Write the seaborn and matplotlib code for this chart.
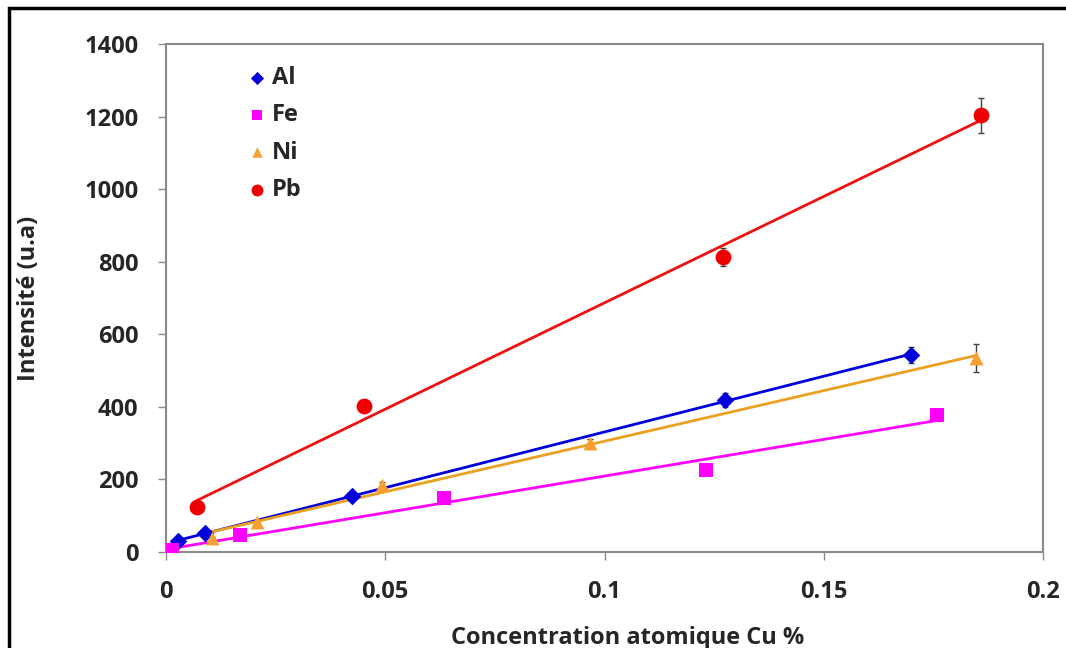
import matplotlib
import matplotlib.pyplot as plt
import numpy as np
import seaborn as sns
from matplotlib.patches import Rectangle

matplotlib.use("Agg")

sns.set_theme(style="white")
plt.rcParams["font.family"] = ["Open Sans", "DejaVu Sans"]

# valeurs
al_x = [0.0027, 0.0089, 0.0424, 0.1275, 0.170]
al_y = [30, 52, 154, 419, 543]
al_err = [4, 6, 8, 20, 22]

fe_x = [0.0014, 0.0169, 0.0634, 0.1231, 0.1758]
fe_y = [5, 47, 149, 226, 378]
fe_err = [0, 0, 0, 0, 0]

ni_x = [0.0105, 0.0208, 0.0493, 0.0967, 0.1847]
ni_y = [39, 83, 185, 300, 535]
ni_err = [3, 5, 8, 12, 39]

pb_x = [0.0071, 0.0452, 0.127, 0.1859]
pb_y = [124, 402, 813, 1204]
pb_err = [0, 6, 25, 48]

series = [
    ("Al", al_x, al_y, al_err, "D", "#0000dd", "#0000dd", 80),
    ("Fe", fe_x, fe_y, fe_err, "s", "#ff00ff", "#ff00ff", 110),
    ("Ni", ni_x, ni_y, ni_err, "^", "#f5a030", "#eaa020", 100),
    ("Pb", pb_x, pb_y, pb_err, "o", "#ee0000", "#ee1111", 130),
]

fig = plt.figure(figsize=(10.66, 6.48), dpi=100)
ax = fig.add_axes([166 / 1066, 1 - 552 / 648, (1043 - 166) / 1066, (552 - 44) / 648])

for name, x, y, err, mk, col, lcol, size in series:
    if any(e > 0 for e in err):
        ax.errorbar(x, y, yerr=err, fmt="none", ecolor="#404040", elinewidth=1,
                    capsize=2.5, capthick=1, zorder=2)
    sns.regplot(x=np.array(x), y=np.array(y), ax=ax, ci=None, truncate=True,
                marker=mk, color=col, label=name,
                scatter_kws={"s": size, "alpha": 1, "zorder": 3, "linewidths": 0},
                line_kws={"color": lcol, "lw": 2, "zorder": 2.5})

ax.set_xlim(0, 0.2)
ax.set_ylim(0, 1400)
ax.set_xticks([0, 0.05, 0.1, 0.15, 0.2])
ax.set_xticklabels(["0", "0.05", "0.1", "0.15", "0.2"])
ax.set_yticks(range(0, 1401, 200))

for s in ax.spines.values():
    s.set_visible(True)
    s.set_color("#8a8a8a")
    s.set_linewidth(1.5)

ax.tick_params(axis="both", which="major", direction="out", length=6, width=1,
               color="#8a8a8a", labelsize=17, pad=14)
ax.tick_params(axis="x", bottom=True)
ax.tick_params(axis="y", left=True)
for lab in ax.get_xticklabels() + ax.get_yticklabels():
    lab.set_fontweight("bold")

ax.set_xlabel("Concentration atomique Cu %", fontsize=17, fontweight="bold")
ax.set_ylabel("Intensité (u.a)", fontsize=17, fontweight="bold")
ax.xaxis.set_label_coords(0.526, -0.145)
ax.yaxis.set_label_coords(-0.143, 0.5)

leg = ax.legend(loc="upper left", bbox_to_anchor=(0.08, 0.975), frameon=False,
                prop={"size": 17, "weight": "bold"}, handletextpad=0.1,
                handlelength=1.0, labelspacing=0.56, markerscale=0.75,
                borderaxespad=0)

fig.patches.append(Rectangle((8.5 / 1066, -0.1), 1.2, 1 - 8.5 / 648 + 0.1,
                             transform=fig.transFigure, fill=False,
                             edgecolor="black", lw=2.5, zorder=10))

fig.savefig("out.png", dpi=100)
